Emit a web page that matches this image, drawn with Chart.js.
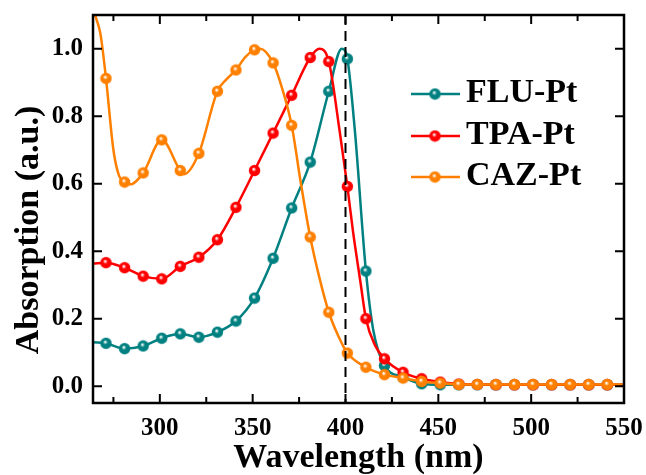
<!DOCTYPE html>
<html>
<head>
<meta charset="utf-8">
<script src="https://cdn.jsdelivr.net/npm/chart.js@4.4.1/dist/chart.umd.min.js"></script>
<style>
  html, body { margin: 0; padding: 0; background: #fff; }
</style>
</head>
<body>
<canvas id="absChart" width="646" height="475"></canvas>
<script>
// series (wavelength in nm, absorption normalised)
const seriesNames = ['FLU-Pt', 'TPA-Pt', 'CAZ-Pt'];

const fluNm  = [264, 271, 281, 291, 301, 311, 321, 331, 341, 351, 361, 371, 381, 391, 398, 401, 405, 411, 415, 421, 431, 441, 451, 461, 471, 481, 491, 501, 511, 521, 531, 541, 551];
const fluAbs = [0.130, 0.127, 0.111, 0.119, 0.142, 0.155, 0.145, 0.160, 0.193, 0.261, 0.379, 0.528, 0.664, 0.874, 1.000, 0.970, 0.760, 0.341, 0.165, 0.061, 0.027, 0.007, 0.004, 0.004, 0.004, 0.004, 0.004, 0.004, 0.004, 0.004, 0.004, 0.004, 0.004];

const tpaNm  = [264, 271, 281, 291, 301, 311, 321, 331, 341, 351, 361, 371, 381, 386, 391, 397, 401, 404, 408, 411, 416, 421, 431, 441, 451, 461, 471, 481, 491, 501, 511, 521, 531, 541, 551];
const tpaAbs = [0.363, 0.366, 0.351, 0.326, 0.318, 0.355, 0.382, 0.434, 0.530, 0.639, 0.750, 0.862, 0.974, 1.000, 0.962, 0.750, 0.592, 0.460, 0.310, 0.200, 0.120, 0.081, 0.041, 0.022, 0.012, 0.006, 0.005, 0.004, 0.004, 0.004, 0.004, 0.004, 0.004, 0.004, 0.004];

const cazNm  = [264, 266, 268, 271, 275, 278, 281, 284, 291, 301, 311, 313, 321, 331, 336, 341, 346, 351, 354, 361, 366, 371, 376, 381, 386, 391, 396, 401, 411, 421, 431, 441, 451, 461, 471, 481, 491, 501, 511, 521, 531, 541, 551];
const cazAbs = [1.115, 1.085, 1.044, 0.912, 0.700, 0.624, 0.605, 0.598, 0.632, 0.730, 0.639, 0.628, 0.690, 0.874, 0.910, 0.937, 0.975, 0.997, 1.000, 0.958, 0.880, 0.773, 0.600, 0.442, 0.320, 0.219, 0.150, 0.098, 0.056, 0.034, 0.024, 0.014, 0.009, 0.005, 0.005, 0.005, 0.005, 0.005, 0.005, 0.005, 0.005, 0.005, 0.005];

const xTickValues = [300, 350, 400, 450, 500, 550];
const xMinorValues = [275, 325, 375, 425, 475, 525];
const yTickValues = [0.0, 0.2, 0.4, 0.6, 0.8, 1.0];
const markerLine = 400;

const colors = ['#008080', '#ff0000', '#ff8000'];
const serif = '"Liberation Serif", "Times New Roman", serif';

function makeBall(color) {
    const c = document.createElement('canvas');
    c.width = 13; c.height = 13;
    const g = c.getContext('2d');
    const grad = g.createRadialGradient(5.6, 5.0, 0.4, 6.5, 6.5, 6);
    grad.addColorStop(0, '#ffffff');
    grad.addColorStop(0.35, color);
    grad.addColorStop(1, color);
    g.fillStyle = grad;
    g.beginPath();
    g.arc(6.5, 6.5, 5.7, 0, Math.PI * 2);
    g.fill();
    return c;
}
const balls = colors.map(makeBall);

function isMarker(x) {
    return x >= 271 && x <= 541 && (x - 271) % 10 === 0;
}

function toPoints(xs, ys) {
    return xs.map((x, i) => ({ x, y: ys[i] }));
}

const rawSeries = [[fluNm, fluAbs], [tpaNm, tpaAbs], [cazNm, cazAbs]];

const datasets = rawSeries.map(([xs, ys], i) => ({
    label: seriesNames[i],
    data: toPoints(xs, ys),
    borderColor: colors[i],
    backgroundColor: colors[i],
    borderWidth: 2.5,
    cubicInterpolationMode: 'monotone',
    pointRadius: ctx => isMarker(ctx.raw.x) ? 5.5 : 0,
    pointStyle: balls[i],
    clip: 0,
})).reverse();

const framePlugin = {
    id: 'frame',
    afterDatasetsDraw(chart) {
        const { ctx, chartArea: a, scales: { x, y } } = chart;
        ctx.save();

        // dashed marker line
        const px = x.getPixelForValue(markerLine);
        ctx.strokeStyle = '#000';
        ctx.lineWidth = 2;
        ctx.setLineDash([10, 6]);
        ctx.beginPath();
        ctx.moveTo(px, a.top);
        ctx.lineTo(px, a.bottom);
        ctx.stroke();
        ctx.setLineDash([]);

        // box
        ctx.lineWidth = 2.5;
        ctx.strokeRect(a.left, a.top, a.right - a.left, a.bottom - a.top);

        // inward ticks
        ctx.lineWidth = 2;
        ctx.beginPath();
        const xt = (v, len) => {
            const p = x.getPixelForValue(v);
            ctx.moveTo(p, a.bottom); ctx.lineTo(p, a.bottom - len);
            ctx.moveTo(p, a.top); ctx.lineTo(p, a.top + len);
        };
        xTickValues.forEach(v => xt(v, 9));
        xMinorValues.forEach(v => xt(v, 6));
        yTickValues.forEach(v => {
            const p = y.getPixelForValue(v);
            ctx.moveTo(a.left, p); ctx.lineTo(a.left + 9, p);
            ctx.moveTo(a.right, p); ctx.lineTo(a.right - 9, p);
        });
        ctx.stroke();

        // legend
        const legendY = [94, 136, 177];
        ctx.font = 'bold 34px ' + serif;
        ctx.textBaseline = 'alphabetic';
        ctx.textAlign = 'left';
        seriesNames.forEach((name, i) => {
            const ly = legendY[i];
            ctx.strokeStyle = colors[i];
            ctx.lineWidth = 2.5;
            ctx.beginPath();
            ctx.moveTo(411, ly);
            ctx.lineTo(460, ly);
            ctx.stroke();
            ctx.drawImage(balls[i], 435 - 6.5, ly - 6.5);
            ctx.fillStyle = '#000';
            ctx.fillText(name, 466, ly + 8);
        });

        // y title
        ctx.translate(29, 230);
        ctx.rotate(-Math.PI / 2);
        ctx.textAlign = 'center';
        ctx.textBaseline = 'middle';
        ctx.fillText('Absorption (a.u.)', 0, 0);
        ctx.restore();
    }
};

new Chart(document.getElementById('absChart'), {
    type: 'line',
    data: { datasets },
    options: {
        responsive: false,
        animation: false,
        layout: { padding: { top: 15, right: 22, left: 0, bottom: 0 } },
        plugins: { legend: { display: false }, tooltip: { enabled: false } },
        scales: {
            x: {
                type: 'linear',
                min: 264,
                max: 550,
                grid: { display: false, drawTicks: false },
                border: { display: false },
                afterBuildTicks: s => { s.ticks = xTickValues.map(v => ({ value: v })); },
                afterFit: s => { s.height = 72; s.paddingLeft = 0; s.paddingRight = 0; },
                ticks: {
                    color: '#000',
                    padding: 11,
                    maxRotation: 0,
                    autoSkip: false,
                    font: { family: serif, size: 25, weight: 'bold' },
                },
                title: {
                    display: true,
                    text: 'Wavelength (nm)',
                    color: '#000',
                    padding: 0,
                    font: { family: serif, size: 34, weight: 'bold', lineHeight: 1 },
                },
            },
            y: {
                min: -0.05,
                max: 1.1,
                grid: { display: false, drawTicks: false },
                border: { display: false },
                afterBuildTicks: s => { s.ticks = yTickValues.map(v => ({ value: v })); },
                afterFit: s => { s.width = 93; s.paddingTop = 0; s.paddingBottom = 0; },
                ticks: {
                    color: '#000',
                    padding: 10,
                    callback: v => v.toFixed(1),
                    font: { family: serif, size: 25, weight: 'bold' },
                },
            },
        },
    },
    plugins: [framePlugin],
});
</script>
</body>
</html>
